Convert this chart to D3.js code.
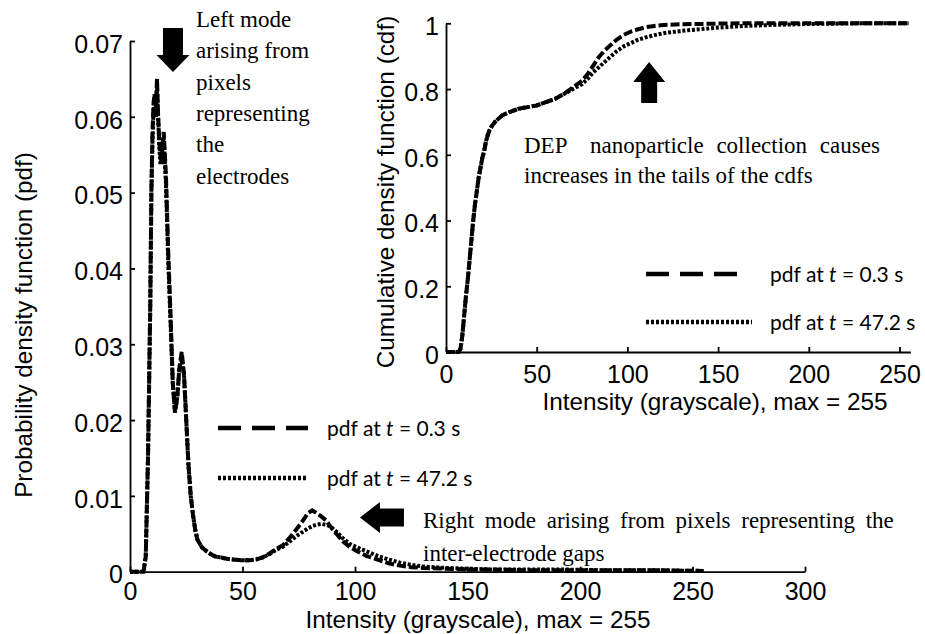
<!DOCTYPE html>
<html>
<head>
<meta charset="utf-8">
<script src="https://cdn.jsdelivr.net/npm/d3@7"></script>
<style>
  body { margin: 0; background: #fff; }
  svg { display: block; background: #fff; }
  .tick text { font-family: "Liberation Sans", Arial, sans-serif; font-size: 25px; fill: #000; }
  .tick line, .domain { stroke: #000; stroke-width: 1.8px; }
  .axis-title { font-family: "Liberation Sans", Arial, sans-serif; font-size: 24.3px; fill: #000; }
  .note { font-family: "Liberation Serif", "Times New Roman", serif; font-size: 23px; fill: #000; }
  .legend-text { font-family: Lato, "Open Sans", sans-serif; font-size: 21px; fill: #000; }
  .curve { fill: none; stroke: #000; stroke-width: 4px; }
</style>
</head>
<body>
<div id="chart"></div>
<script>
// ---- pdf (main panel) ----
const pdfIntensity = [0, 6, 7, 8, 9, 9.5, 10, 10.5, 11, 11.5, 12, 12.5, 13, 13.5, 14,
  14.5, 15, 15.5, 16, 16.5, 17, 18, 19, 20, 21, 22, 23, 24, 25, 26, 27, 28, 29, 30, 32,
  34, 36, 38, 40, 43, 46, 50, 53, 56, 59, 62, 65, 68, 71, 74, 77, 79, 81, 83, 85, 87, 89,
  92, 95, 98, 101, 105, 110, 115, 120, 125, 130, 140, 150, 160, 175, 190, 210, 230, 255];

const pdfEarly = [0, 0, 0.002, 0.015, 0.035, 0.05, 0.058, 0.062, 0.063, 0.061, 0.065,
  0.060, 0.057, 0.055, 0.054, 0.056, 0.058, 0.055, 0.052, 0.047, 0.042, 0.034, 0.025,
  0.021, 0.023, 0.027, 0.029, 0.026, 0.020, 0.014, 0.010, 0.0075, 0.0055, 0.0042, 0.0032,
  0.0027, 0.0023, 0.0020, 0.0019, 0.0017, 0.0016, 0.0015, 0.0015, 0.0016, 0.0019, 0.0024,
  0.0030, 0.0035, 0.0045, 0.0056, 0.0068, 0.0077, 0.0081, 0.0077, 0.0073, 0.0068, 0.0060,
  0.0049, 0.0039, 0.0032, 0.0027, 0.0021, 0.0016, 0.0011, 0.0008, 0.0006, 0.0005, 0.0004,
  0.0003, 0.0003, 0.0002, 0.0002, 0.0002, 0.0002, 0.0001];

const pdfLate = [0, 0, 0.002, 0.015, 0.035, 0.05, 0.057, 0.061, 0.063, 0.060, 0.064,
  0.060, 0.056, 0.054, 0.054, 0.057, 0.057, 0.054, 0.051, 0.046, 0.041, 0.033, 0.025,
  0.021, 0.023, 0.027, 0.028, 0.026, 0.020, 0.014, 0.010, 0.0075, 0.0055, 0.0042, 0.0032,
  0.0027, 0.0023, 0.0020, 0.0019, 0.0017, 0.0016, 0.0015, 0.0015, 0.0016, 0.0019, 0.0023,
  0.0029, 0.0033, 0.0040, 0.0047, 0.0053, 0.0057, 0.0060, 0.0062, 0.0063, 0.0062, 0.0060,
  0.0052, 0.0043, 0.0036, 0.0032, 0.0027, 0.0021, 0.0016, 0.0012, 0.0009, 0.0007, 0.0005,
  0.0004, 0.0003, 0.0003, 0.0003, 0.0002, 0.0002, 0.0001];

// ---- cdf (inset) ----
const cdfIntensity = [0, 7, 8, 9, 10, 11, 12, 13, 14, 15, 16, 17, 18, 19, 20, 21, 22, 23,
  24, 25, 27, 29, 31, 35, 40, 45, 50, 55, 60, 65, 70, 75, 78, 81, 84, 87, 90, 94, 98, 102,
  106, 110, 115, 120, 130, 140, 150, 165, 180, 200, 230, 255];

const cdfEarly = [0, 0, 0.01, 0.05, 0.11, 0.17, 0.22, 0.28, 0.34, 0.40, 0.45, 0.49, 0.53,
  0.56, 0.59, 0.61, 0.64, 0.66, 0.675, 0.685, 0.70, 0.71, 0.72, 0.73, 0.74, 0.745, 0.75,
  0.76, 0.77, 0.785, 0.805, 0.825, 0.845, 0.87, 0.895, 0.915, 0.93, 0.95, 0.965, 0.975,
  0.982, 0.988, 0.992, 0.995, 0.997, 0.998, 0.999, 1, 1, 1, 1, 1];

const cdfLate = [0, 0, 0.01, 0.05, 0.11, 0.17, 0.22, 0.28, 0.34, 0.40, 0.45, 0.49, 0.53,
  0.56, 0.59, 0.61, 0.64, 0.66, 0.675, 0.685, 0.70, 0.71, 0.72, 0.73, 0.74, 0.745, 0.75,
  0.76, 0.77, 0.785, 0.80, 0.815, 0.83, 0.85, 0.865, 0.88, 0.895, 0.915, 0.93, 0.94,
  0.95, 0.957, 0.964, 0.97, 0.977, 0.982, 0.987, 0.992, 0.995, 0.998, 1, 1];

// ---- ticks and labels ----
const mainXTicks = [0, 50, 100, 150, 200, 250, 300];
const mainYTicks = [0, 0.01, 0.02, 0.03, 0.04, 0.05, 0.06, 0.07];
const insetXTicks = [0, 50, 100, 150, 200, 250];
const insetYTicks = [0, 0.2, 0.4, 0.6, 0.8, 1];
const legendTimes = ['0.3', '47.2'];
const xTitle = 'Intensity (grayscale), max = 255';

const config = {
  width: 925,
  height: 634,
  dashCurve: '9,3',
  dotCurve: '3,1.8',
  dashLegend: '23,11',
  dotLegend: '3,2'
};

const svg = d3.select('#chart').append('svg')
  .attr('width', config.width)
  .attr('height', config.height);

// scales
const xMain = d3.scaleLinear().domain([0, 300]).range([130, 805]);
const yMain = d3.scaleLinear().domain([0, 0.07]).range([571.7, 41]);
const xInset = d3.scaleLinear().domain([0, 256]).range([446, 910.4]);
const yInset = d3.scaleLinear().domain([0, 1]).range([352, 23.3]);

/**
 * Draw inward-ticked axes (left + bottom only)
 */
function drawAxes(x, y, xTicks, yTicks, yFmt, xPad, yPad) {
  svg.append('g')
    .attr('transform', `translate(0,${y.range()[0]})`)
    .call(d3.axisBottom(x).tickValues(xTicks).tickSizeInner(-5).tickSizeOuter(0)
      .tickPadding(xPad).tickFormat(d3.format('d')));
  const ya = svg.append('g')
    .attr('transform', `translate(${x.range()[0]},0)`)
    .call(d3.axisLeft(y).tickValues(yTicks).tickSizeInner(-5).tickSizeOuter(0)
      .tickPadding(yPad).tickFormat(yFmt));
  ya.selectAll('.tick text').attr('dy', '0.45em');
}

drawAxes(xMain, yMain, mainXTicks, mainYTicks,
  d => d === 0 ? '0' : d3.format('.2f')(d), 11, 7);
drawAxes(xInset, yInset, insetXTicks, insetYTicks, d3.format('~g'), 13, 7);

// curves
function drawCurve(x, y, xs, ys, dash) {
  const line = d3.line().x(d => x(d[0])).y(d => y(d[1]));
  svg.append('path')
    .attr('class', 'curve')
    .attr('d', line(d3.zip(xs, ys)))
    .attr('stroke-dasharray', dash);
}

drawCurve(xMain, yMain, pdfIntensity, pdfLate, config.dotCurve);
drawCurve(xMain, yMain, pdfIntensity, pdfEarly, config.dashCurve);
drawCurve(xInset, yInset, cdfIntensity, cdfLate, config.dotCurve);
drawCurve(xInset, yInset, cdfIntensity, cdfEarly, config.dashCurve);

// axis titles
svg.append('text').attr('class', 'axis-title')
  .attr('x', 478).attr('y', 628).attr('text-anchor', 'middle').text(xTitle);
svg.append('text').attr('class', 'axis-title')
  .attr('x', 715).attr('y', 410).attr('text-anchor', 'middle').text(xTitle);
svg.append('text').attr('class', 'axis-title')
  .attr('transform', 'translate(32,325) rotate(-90)')
  .attr('text-anchor', 'middle').text('Probability density function (pdf)');
svg.append('text').attr('class', 'axis-title')
  .attr('transform', 'translate(394,192) rotate(-90)')
  .attr('text-anchor', 'middle').text('Cumulative density function (cdf)');

/**
 * Legend: a dashed and a dotted sample plus "pdf at t = ... s"
 */
function drawLegend(x0, x1, dotEnd, y0, y1, textX) {
  const rows = [
    { y: y0, end: x1, dash: config.dashLegend, w: 4.5, t: legendTimes[0] },
    { y: y1, end: dotEnd, dash: config.dotLegend, w: 4.5, t: legendTimes[1] }
  ];
  rows.forEach(r => {
    svg.append('line')
      .attr('x1', x0).attr('x2', r.end).attr('y1', r.y).attr('y2', r.y)
      .attr('stroke', '#000').attr('stroke-width', r.w)
      .attr('stroke-dasharray', r.dash);
    const t = svg.append('text').attr('class', 'legend-text')
      .attr('x', textX).attr('y', r.y + 8);
    t.append('tspan').text('pdf at ');
    t.append('tspan').attr('font-style', 'italic').text('t');
    t.append('tspan').text(` = ${r.t} s`);
  });
}

drawLegend(218, 308, 308, 428, 478, 327);
drawLegend(646, 745, 752, 274, 322, 770);

/**
 * Block arrow, tip at (tx, ty); dir: 'down' | 'left' | 'up'
 */
function blockArrow(tx, ty, dir, len, headLen, headW, shaftW) {
  const pts = [
    [0, 0], [headW / 2, headLen], [shaftW / 2, headLen], [shaftW / 2, len],
    [-shaftW / 2, len], [-shaftW / 2, headLen], [-headW / 2, headLen]
  ];
  const rot = { down: 180, left: -90, up: 0 }[dir];
  svg.append('polygon')
    .attr('points', pts.map(p => p.join(',')).join(' '))
    .attr('transform', `translate(${tx},${ty}) rotate(${rot})`)
    .attr('fill', '#000');
}

blockArrow(xMain(19.1), yMain(0.0659), 'down', 44, 17, 33, 20);
blockArrow(xMain(102.2), yMain(0.00715), 'left', 44, 20, 31, 18);
blockArrow(xInset(112), yInset(0.882), 'up', 41, 20, 32, 16);

// annotation text
const leftNote = ['Left mode', 'arising from', 'pixels', 'representing', 'the', 'electrodes'];
svg.append('text').attr('class', 'note')
  .selectAll('tspan').data(leftNote).join('tspan')
  .attr('x', 196).attr('y', (d, i) => 27 + i * 31.3)
  .text(d => d);

svg.append('text').attr('class', 'note')
  .attr('x', 423).attr('y', 528).attr('word-spacing', '5px')
  .text('Right mode arising from pixels representing the');
svg.append('text').attr('class', 'note')
  .attr('x', 423).attr('y', 561).text('inter-electrode gaps');

svg.append('text').attr('class', 'note')
  .attr('x', 524).attr('y', 153).text('DEP');
svg.append('text').attr('class', 'note')
  .attr('x', 590).attr('y', 153).attr('word-spacing', '7px')
  .text('nanoparticle collection causes');
svg.append('text').attr('class', 'note')
  .attr('x', 524).attr('y', 183)
  .text('increases in the tails of the cdfs');
</script>
</body>
</html>
